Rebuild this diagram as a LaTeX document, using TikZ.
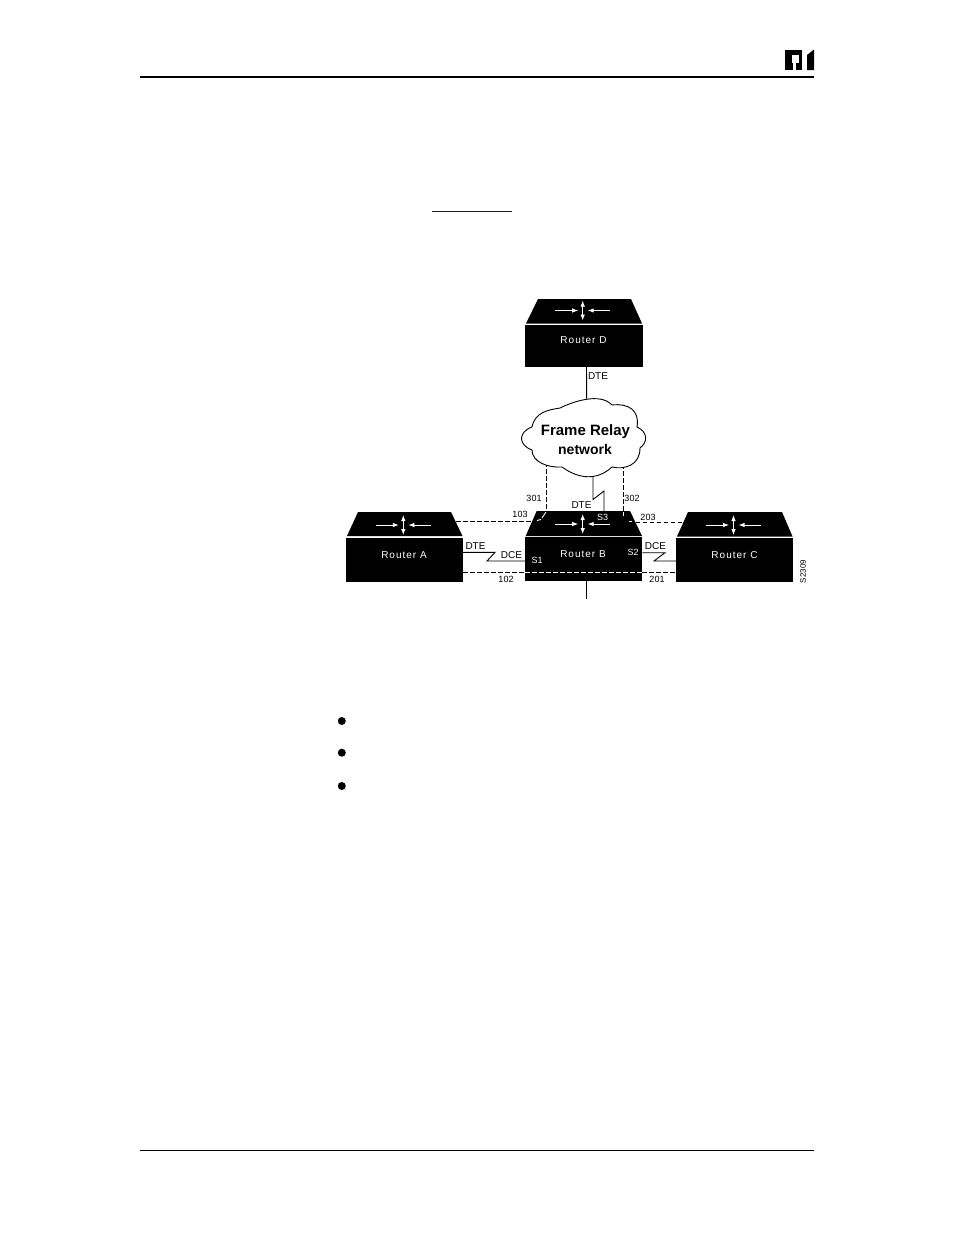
\documentclass[tikz,border=0pt]{standalone}
\usepackage{fontspec}
\setmainfont{Liberation Sans}
\newfontfamily\spacedfont[LetterSpace=10]{Liberation Sans}
\usetikzlibrary{arrows.meta}
\tikzset{
  lnk/.style={draw=black,line width=.9pt},
  dashlnk/.style={draw=black,line width=.9pt,dash pattern=on 4.5pt off 2.5pt},
  dashwhite/.style={draw=white,line width=.9pt,dash pattern=on 4.5pt off 2.5pt},
  solidblock/.style={fill=black,draw=none},
  lab/.style={inner sep=0pt,font=\fontsize{10}{10}\selectfont,text=black},
  numlab/.style={inner sep=0pt,font=\fontsize{9}{9}\selectfont,text=black},
  whitelab/.style={inner sep=0pt,font=\fontsize{9}{9}\selectfont,text=white},
  routerlab/.style={inner sep=0pt,font=\fontsize{10}{10}\selectfont\spacedfont,text=white},
  glyphline/.style={draw=white,line width=.9pt,-{Latex[length=6pt,width=4.5pt]}},
  glyphdouble/.style={draw=white,line width=.9pt,{Latex[length=6pt,width=4.5pt]}-{Latex[length=6pt,width=4.5pt]}},
  pics/routerglyph/.style={code={
    \coordinate (-l) at (-27.5,0);
    \coordinate (-li) at (-4.5,0);
    \coordinate (-r) at (27.5,0);
    \coordinate (-ri) at (5,0);
    \coordinate (-t) at (0,-10);
    \coordinate (-b) at (0,10);
    \draw[glyphline] (-l) -- (-li);
    \draw[glyphline] (-r) -- (-ri);
    \draw[glyphdouble] (-t) -- (-b);
  }},
}
\begin{document}
\begin{tikzpicture}[x=1pt,y=-1pt]
\useasboundingbox (0,0) rectangle (954,1235);
\fill[white] (0,0) rectangle (954,1235);

% page furniture
\coordinate (headL) at (140,76.5);
\coordinate (headR) at (814,76.5);
\draw[black,line width=2pt] (headL) -- (headR);
\coordinate (footL) at (140,1150.3);
\coordinate (footR) at (814,1150.3);
\draw[black,line width=1pt] (footL) -- (footR);
\coordinate (linkL) at (432,211.3);
\coordinate (linkR) at (511.7,211.3);
\draw[blue,line width=1.4pt] (linkL) -- (linkR);

% logo
\fill[black] (785,50) rectangle (802,70);
\fill[white] (792,55) rectangle (799,63);
\fill[white] (793,63) rectangle (796,70);
\fill[black] (807,55) -- (814,49.5) -- (814,70) -- (807,70) -- cycle;

% bullets
\fill[black] (341.8,721) circle (4pt);
\fill[black] (341.8,752.7) circle (4pt);
\fill[black] (341.8,786) circle (4pt);

% dashed PVCs from the cloud (drawn first)
\coordinate (p301a) at (546.5,462);
\coordinate (p301b) at (546.5,511);
\coordinate (p302a) at (623.5,464);
\coordinate (p302b) at (623.5,512);
\draw[dashlnk] (p301a) -- (p301b);
\draw[dashlnk] (p302a) -- (p302b);

% cloud
\coordinate (cloudTop) at (586.7,399);
\coordinate (cloudBot) at (593,476);
\draw[fill=white,draw=black,line width=.9pt]
  (532,427) .. controls (535,412) and (548,410) .. (560,408)
  .. controls (572,402) and (600,392) .. (612,405)
  .. controls (628,403) and (640,410) .. (637,427)
  .. controls (648,432) and (648,442) .. (640,448)
  .. controls (640,465) and (625,470) .. (612,467)
  .. controls (598,480) and (580,480) .. (562,467)
  .. controls (548,468) and (532,462) .. (532,450)
  .. controls (518,445) and (518,432) .. (532,427) -- cycle;
\node[inner sep=0pt,font=\bfseries\fontsize{15}{15}\selectfont] (frlabel) at (585.5,431.5) {Frame Relay};
\node[inner sep=0pt,font=\bfseries\fontsize{14}{14}\selectfont] (frlabelb) at (585,449) {network};

% routers
% Router D
\fill[solidblock] (538,299) -- (631,299) -- (642,323.5) -- (526,323.5) -- cycle;
\fill[solidblock] (525,325) rectangle (643,367);
\pic (gD) at (582.7,310.5) {routerglyph};
\node[routerlab] (rD) at (583.5,340) {Router D};
% Router A
\fill[solidblock] (358,512) -- (451,512) -- (462.5,536) -- (347,536) -- cycle;
\fill[solidblock] (346,537.5) rectangle (463,582);
\pic (gA) at (403.3,525) {routerglyph};
\node[routerlab] (rA) at (404,555) {Router A};
% Router B
\fill[solidblock] (536.7,511) -- (630,511) -- (642,536) -- (525.7,536) -- cycle;
\fill[solidblock] (525,537.3) rectangle (642.3,581);
\pic (gB) at (582.7,524) {routerglyph};
\node[routerlab] (rB) at (583,554) {Router B};
% Router C
\fill[solidblock] (688,512) -- (782,512) -- (792.5,536.5) -- (677,536.5) -- cycle;
\fill[solidblock] (676,538) rectangle (793,582);
\pic (gC) at (733.5,525) {routerglyph};
\node[routerlab] (rC) at (734.5,555) {Router C};

% solid connectors
\coordinate (dBot) at (586.5,367);
\draw[lnk] (dBot) -- (cloudTop);
\coordinate (bTopS) at (604,511);
\coordinate (zza) at (593,499.5);
\coordinate (zzb) at (604,491);
\draw[lnk] (cloudBot) -- (zza) -- (zzb) -- (bTopS);
\coordinate (bBot) at (586.7,581);
\coordinate (bTail) at (586.7,599);
\draw[lnk] (bBot) -- (bTail);
\coordinate (aR) at (463,552.3);
\coordinate (aZ1) at (495,552.3);
\coordinate (aZ2) at (487,561);
\coordinate (bL) at (525,561);
\draw[lnk] (aR) -- (aZ1) -- (aZ2) -- (bL);
\coordinate (bR) at (642.3,552.7);
\coordinate (cZ1) at (665,552.7);
\coordinate (cZ2) at (654,561);
\coordinate (cL) at (676,561);
\draw[lnk] (bR) -- (cZ1) -- (cZ2) -- (cL);

% dashed horizontals
\coordinate (d103a) at (456,521);
\coordinate (d103b) at (537,521);
\draw[dashlnk] (d103a) -- (d103b);
\draw[draw=white,line width=.9pt] (537,520.5) -- (541,519.5);
\draw[draw=white,line width=.9pt] (542,518) -- (546,512);
\coordinate (d203a) at (635.5,522.3);
\coordinate (d203b) at (684,522.3);
\draw[dashlnk] (d203a) -- (d203b);
\draw[draw=white,line width=.9pt] (623.5,512) -- (623.5,516);
\draw[draw=white,line width=.9pt] (629,521) -- (632,521);
\coordinate (lowA) at (463,572.5);
\coordinate (lowB1) at (525,572.5);
\coordinate (lowB2) at (642.3,572.5);
\coordinate (lowC) at (676,572.5);
\draw[dashlnk] (lowA) -- (lowB1);
\draw[dashwhite] (lowB1) -- (lowB2);
\draw[dashlnk] (lowB2) -- (lowC);

% labels
\node[lab] (ldted) at (598,376) {DTE};
\node[numlab] (l301) at (534,498) {301};
\node[numlab] (l302) at (632,498) {302};
\node[numlab] (l103) at (520,514) {103};
\node[numlab] (l203) at (648,517) {203};
\node[lab] (ldteb) at (581.5,505) {DTE};
\node[whitelab] (ls3) at (602.5,517) {S3};
\node[whitelab] (ls1) at (537,560) {S1};
\node[whitelab] (ls2) at (633,552) {S2};
\node[lab] (ldtea) at (475.5,546) {DTE};
\node[lab] (ldcea) at (511.5,555) {DCE};
\node[numlab] (l102) at (506,579) {102};
\node[lab] (ldcec) at (655.5,546) {DCE};
\node[numlab] (l201) at (657,579) {201};
\node[inner sep=0pt,font=\fontsize{8}{8}\selectfont,rotate=90] (lid) at (803,571.5) {S2309};
\end{tikzpicture}
\end{document}
